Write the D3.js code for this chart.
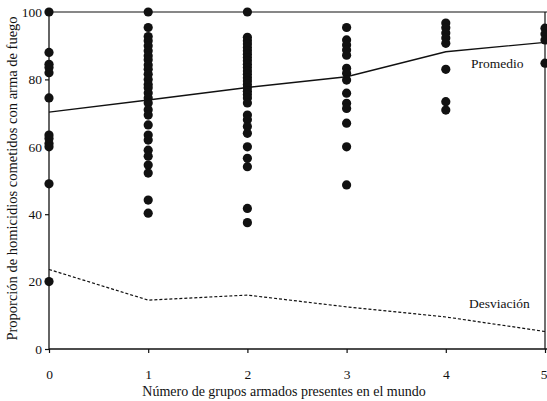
<!DOCTYPE html>
<html>
<head>
<meta charset="utf-8">
<script src="https://cdn.jsdelivr.net/npm/d3@7/dist/d3.min.js"></script>
<style>
  html, body { margin: 0; padding: 0; background: #fff; }
  svg { display: block; }
  text { font-family: "Liberation Serif", "DejaVu Serif", serif; fill: #111; }
</style>
</head>
<body>
<svg id="chart" width="547" height="401"></svg>
<script>
// Number of armed groups present (x categories)
const groups = [0, 1, 2, 3, 4, 5];

// Share of homicides committed with firearms, one list per group count
const group0 = [100, 88, 84.5, 83.5, 82, 74.5, 63.5, 62.5, 61, 60, 49, 20];
const group1 = [100, 95.4, 92.7, 91.5, 90, 88.5, 87, 85.8, 84.3, 83, 81.5, 80, 78.5, 77.5,
                76, 74.5, 73, 71, 69.4, 66.5, 63.5, 62, 59, 57.2, 54.6, 52.2, 44.2, 40.3];
const group2 = [100, 92.5, 91.5, 90.5, 89.5, 88.5, 87.5, 86.5, 85.5, 84.5, 83.5, 82.5, 81.5,
                80.5, 79.5, 78.5, 77.5, 76.5, 75.5, 74.5, 73, 69.4, 68, 66, 64, 60, 56.6, 54.1, 41.7, 37.5];
const group3 = [95.4, 91.7, 90.2, 88.7, 87.2, 83.3, 81.8, 79.8, 75.9, 72.9, 71.4, 67, 60, 48.7];
const group4 = [96.7, 95.3, 93.8, 92.3, 90.7, 83, 73.4, 70.9];
const group5 = [95.2, 93.5, 91.7, 84.8];

// Summary lines
const meanValues = [70.3, 73.9, 77.6, 80.8, 88.2, 91];
const devValues = [23.6, 14.5, 16, 12.5, 9.5, 5.2];

const yTicks = [0, 20, 40, 60, 80, 100];
const xLabel = "Número de grupos armados presentes en el mundo";
const yLabel = "Proporción de homicidios cometidos con arma de fuego";
const meanLabel = "Promedio";
const devLabel = "Desviación";

const svg = d3.select("#chart");
const x = d3.scaleLinear().domain([0, 5]).range([49, 545]);
const y = d3.scaleLinear().domain([0, 100]).range([349, 12]);
const ink = "#111";

// Axes
const xAxis = svg.append("g").attr("transform", `translate(0,${y(0)})`)
  .call(d3.axisBottom(x).tickValues(groups).tickFormat(d3.format("d")).tickSize(4).tickPadding(16));
const yAxis = svg.append("g").attr("transform", `translate(${x(0)},0)`)
  .call(d3.axisLeft(y).tickValues(yTicks).tickSize(4).tickPadding(3));
[xAxis, yAxis].forEach(g => {
  g.select(".domain").attr("stroke", ink).attr("stroke-width", 1.3);
  g.selectAll(".tick line").attr("stroke", ink).attr("stroke-width", 1.2);
  g.selectAll(".tick text").attr("font-family", "Liberation Serif").attr("font-size", 13.5).attr("fill", ink);
});
xAxis.select(".domain").attr("d", `M${x(0)},0H547`);
yAxis.select(".domain").attr("d", `M0,${y(0)}V${y(100)}`);
// keep the last category label inside the page edge
xAxis.selectAll(".tick text").filter(d => d === 5).attr("text-anchor", "end").attr("dx", 2);

// Top frame line and right edge
svg.append("line").attr("x1", x(0)).attr("x2", 547).attr("y1", y(100)).attr("y2", y(100))
  .attr("stroke", ink).attr("stroke-width", 1.2);
svg.append("line").attr("x1", x(5)).attr("x2", x(5)).attr("y1", y(100)).attr("y2", y(0))
  .attr("stroke", ink).attr("stroke-width", 1.2);

// Scatter points
const columns = [group0, group1, group2, group3, group4, group5];
const points = columns.flatMap((vals, i) => vals.map(v => ({ g: groups[i], v })));
svg.append("g").selectAll("circle").data(points).join("circle")
  .attr("cx", d => x(d.g)).attr("cy", d => y(d.v)).attr("r", 4.6).attr("fill", ink);

// Mean and deviation lines
const line = d3.line().x((d, i) => x(groups[i])).y(d => y(d));
svg.append("path").attr("d", line(meanValues)).attr("fill", "none")
  .attr("stroke", ink).attr("stroke-width", 1.4);
svg.append("path").attr("d", line(devValues)).attr("fill", "none")
  .attr("stroke", ink).attr("stroke-width", 1.2).attr("stroke-dasharray", "3,2");

// Line labels
svg.append("text").attr("x", 471).attr("y", 68).attr("font-size", 13.5).text(meanLabel);
svg.append("text").attr("x", 469).attr("y", 308).attr("font-size", 13.5).text(devLabel);

// Axis titles
svg.append("text").attr("x", 284).attr("y", 396)
  .attr("text-anchor", "middle").attr("font-size", 14).text(xLabel);
svg.append("text").attr("transform", `translate(17,${(y(0) + y(100)) / 2 - 2}) rotate(-90)`)
  .attr("text-anchor", "middle").attr("font-size", 14.5).text(yLabel);
</script>
</body>
</html>
